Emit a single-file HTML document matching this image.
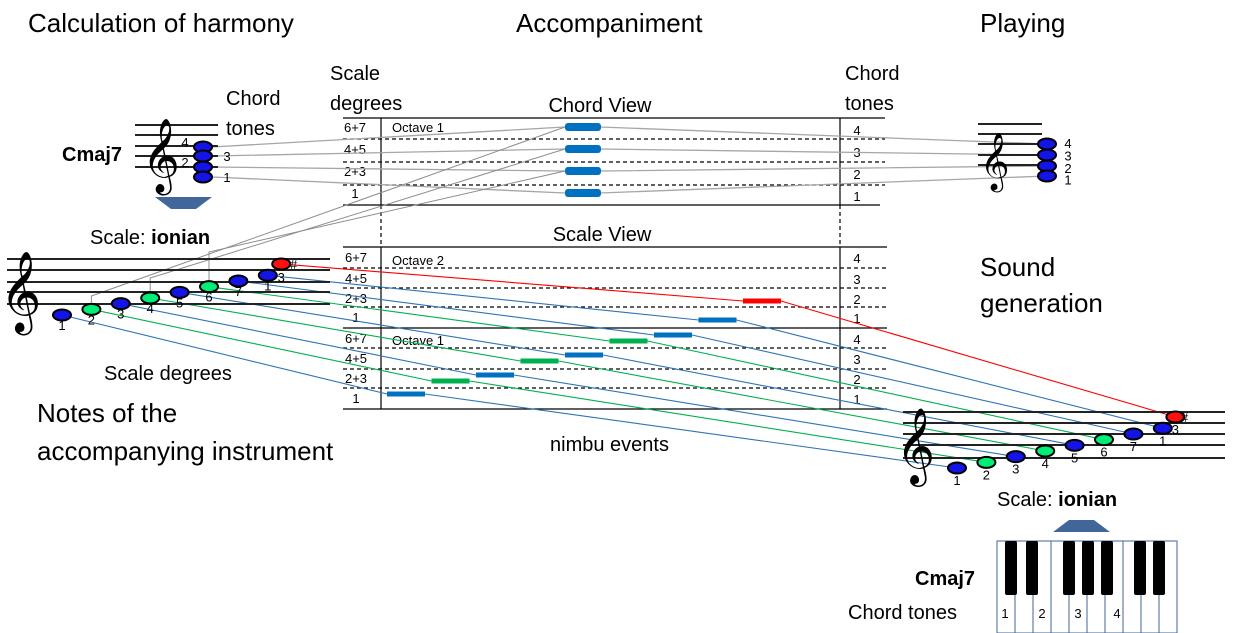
<!DOCTYPE html>
<html><head><meta charset="utf-8"><style>
html,body{margin:0;padding:0;background:#fff}
svg{display:block}
text{font-family:"Liberation Sans","DejaVu Sans",sans-serif;fill:#000}
.clef{font-family:"DejaVu Sans","Noto Sans CJK SC",serif}
</style></head><body>
<svg id="chart" width="1233" height="633" viewBox="0 0 1233 633" xmlns="http://www.w3.org/2000/svg">
<g id="titles">
<text x="28" y="32" font-size="26">Calculation of harmony</text>
<text x="516" y="32" font-size="26">Accompaniment</text>
<text x="980" y="32" font-size="26">Playing</text>
<text x="330" y="80" font-size="20">Scale</text>
<text x="330" y="110" font-size="20">degrees</text>
<text x="845" y="80" font-size="20">Chord</text>
<text x="845" y="110" font-size="20">tones</text>
<text x="600" y="112" font-size="20" text-anchor="middle">Chord View</text>
<text x="602" y="241" font-size="20" text-anchor="middle">Scale View</text>
<text x="226" y="105" font-size="20">Chord</text>
<text x="226" y="135" font-size="20">tones</text>
<text x="62" y="161" font-size="20" font-weight="bold">Cmaj7</text>
<text x="90" y="244" font-size="20">Scale: <tspan font-weight="bold">ionian</tspan></text>
<text x="104" y="380" font-size="20">Scale degrees</text>
<text x="37" y="422" font-size="26">Notes of the</text>
<text x="37" y="460" font-size="26">accompanying instrument</text>
<text x="550" y="451" font-size="20">nimbu events</text>
<text x="980" y="276" font-size="26">Sound</text>
<text x="980" y="312" font-size="26">generation</text>
<text x="997" y="506" font-size="20">Scale: <tspan font-weight="bold">ionian</tspan></text>
<text x="915" y="585" font-size="20" font-weight="bold">Cmaj7</text>
<text x="848" y="619" font-size="20">Chord  tones</text>
</g>
<g id="grid"></g>
<g id="links"></g>
<g id="staves"></g>
<g id="bars"></g>
<g id="piano"></g>
<polygon points="155,197 212,197 196,209 171,209" fill="#41669a"/>
<polygon points="1053,532 1110,532 1094,520 1069,520" fill="#41669a"/>
</svg>
<script>
// ---- data ----
const chordRowLabels = ["6+7","4+5","2+3","1"];
const chordToneLabels = ["4","3","2","1"];
const chordEventRows = [0,1,2,3];           // chord tone bands (4,3,2,1)
const scaleDegreeLabels = ["1","2","3","4","5","6","7","1","3"];
const scaleNoteColors = ["b","g","b","g","b","g","b","b","r"];
const eventDegrees = [0,1,2,3,4,5,6,7,9];    // scale steps (9 = 3 of octave 2)
const eventTimes = [0,1,2,3,4,5,6,7,8];

const NS="http://www.w3.org/2000/svg";
function mk(parent,tag,attrs,name){const e=document.createElementNS(NS,tag);for(const k in attrs)e.setAttribute(k,attrs[k]);


parent.appendChild(e);return e;}
const grid=document.getElementById('grid'),links=document.getElementById('links'),staves=document.getElementById('staves'),bars=document.getElementById('bars'),piano=document.getElementById('piano');
const noteFill={b:"#1414e6",g:"#00ee77",r:"#ff1010"};
const barFill={b:"#0070c0",g:"#00b050",r:"#ff0000"};
const lineCol={b:"#2e75b6",g:"#00b050",r:"#ff0000"};

// ---- grid ----
function hl(y,x1,x2,dash,name){mk(grid,'line',{x1:x1,y1:y,x2:x2,y2:y,stroke:'#000','stroke-width':1.2,'stroke-dasharray':dash?'4,3':'none'},name);}
hl(118,343,885,false,'chord-top-line');
[139,162,185].forEach(y=>hl(y,343,885,true,'chord-row-divider'));
hl(205,343,880,false,'chord-bottom-line');
hl(247,343,887,false,'scale-top-line');
[268,288,307,348,369,388].forEach(y=>hl(y,343,887,true,'scale-row-divider'));
hl(328,343,887,false,'octave-divider');
hl(409,343,887,false,'scale-bottom-line');
[381,840].forEach(x=>{
 mk(grid,'line',{x1:x,y1:118,x2:x,y2:205,stroke:'#000','stroke-width':1.2},'column-line');
 mk(grid,'line',{x1:x,y1:205,x2:x,y2:247,stroke:'#000','stroke-width':1.2,'stroke-dasharray':'4,3'},'column-dashed-line');
 mk(grid,'line',{x1:x,y1:247,x2:x,y2:409,stroke:'#000','stroke-width':1.2},'column-line');
});
function txt(p,x,y,s,size,name,anchor){const t=mk(p,'text',{x:x,y:y,'font-size':size,'text-anchor':anchor||'start'},name);t.textContent=s;return t;}
const chordRowY=[133,155,177,199];
chordRowLabels.forEach((l,i)=>{txt(grid,355,chordRowY[i]-1,l,13,'chord-row-label','middle');txt(grid,857,chordRowY[i]+2,chordToneLabels[i],13,'chord-tone-number','middle');});
txt(grid,392,132,"Octave  1",13,'chord-octave-label');
const scaleBandCenters=[398,378,358,338,317,298,278,257];
for(let o=0;o<2;o++){chordRowLabels.forEach((l,i)=>{const y=scaleBandCenters[(1-o)*4+3-i];
 txt(grid,356,y+5,l,13,'scale-row-label','middle');txt(grid,857,y+6,chordToneLabels[i],13,'scale-tone-number','middle');});}
txt(grid,392,265,"Octave 2",13,'octave-2-label');
txt(grid,392,345,"Octave 1",13,'octave-1-label');

// ---- axis functions ----
const xTime=t=>387+t*44.5;
const barW=38;
function yDeg(d){const band=Math.floor((d+1)/2);const first=(d===0)||(d%2===1);return scaleBandCenters[band]+(d===0?-4:(first?3:-3));}
const chordBandY=r=>127+r*22;
const leftNote=i=>({x:62+ (i<8?i*29.4:i*27.4), y:315-eventDegrees[i]*5.67});
const rightNote=i=>({x:957+(i<8?i*29.4:i*27.3), y:468-eventDegrees[i]*5.67});

// ---- staves ----
function staff(x1,x2,ys,name){ys.forEach(y=>mk(staves,'line',{x1:x1,y1:y,x2:x2,y2:y,stroke:'#222','stroke-width':2},name));}
staff(7,330,[259,270,282,292,304],'left-staff-line');
staff(903,1225,[412,423,434,445,458],'right-staff-line');
staff(135,218,[125,135,146,156,167],'chord-staff-line');
staff(978,1042,[124,134,144,155,165],'playing-staff-line');
function clef(x,y,size,name){const t=txt(staves,x,y,"\u{1D11E}",size,name);t.setAttribute('class','clef');}
clef(0,315,70,'left-clef');clef(896,468,66,'right-clef');clef(142,177,64,'chord-clef');clef(980,178,50,'playing-clef');
function note(x,y,c,name){mk(staves,'ellipse',{cx:x,cy:y,rx:9,ry:5.5,fill:noteFill[c],stroke:'#000','stroke-width':2},name);}

// connection lines scale view
eventTimes.forEach((t,i)=>{const c=scaleNoteColors[i];const L=leftNote(i),R=rightNote(i);const bx=xTime(t),by=yDeg(eventDegrees[i]);
 mk(links,'polyline',{points:`${L.x},${L.y} ${bx},${by} ${bx+barW},${by} ${R.x},${R.y}`,fill:'none',stroke:lineCol[c],'stroke-width':1.1},'scale-link-line');
});
// chord view lines
const chordNoteY=[147,156,167,177], playNoteY=[144,155,166,176];
chordEventRows.forEach((r,i)=>{const y=chordBandY(r);
 mk(links,'polyline',{points:`212,${chordNoteY[i]} 565,${y} 600,${y} 1047,${playNoteY[i]}`,fill:'none',stroke:'#a6a6a6','stroke-width':1.3},'chord-link-line');
});
[[1,0,296],[3,1,278],[5,2,252]].forEach(([n,r,top])=>{const L=leftNote(n);
 mk(links,'polyline',{points:`${L.x},${L.y} ${L.x},${top} 565,${chordBandY(r)}`,fill:'none',stroke:'#8c8c8c','stroke-width':1},'degree-to-chord-line');});

// notes
mk(staves,'line',{x1:52,y1:315,x2:72,y2:315,stroke:'#222','stroke-width':1.5},'ledger-line');
mk(staves,'line',{x1:947,y1:468,x2:967,y2:468,stroke:'#222','stroke-width':1.5},'ledger-line');
mk(staves,'line',{x1:193,y1:177,x2:213,y2:177,stroke:'#222','stroke-width':1.5},'ledger-line');
eventTimes.forEach((t,i)=>{const c=scaleNoteColors[i];const L=leftNote(i),R=rightNote(i);
 note(L.x,L.y,c,'left-scale-note');note(R.x,R.y,c,'right-scale-note');
 txt(staves,L.x+ (i==8?0:0),L.y+15+(i==8?3:0),scaleDegreeLabels[i],13,'left-degree-label','middle');
 txt(staves,R.x,R.y+17,scaleDegreeLabels[i],13,'right-degree-label','middle');});
txt(staves,290,269,"#",13,'sharp-left');txt(staves,1181,422,"#",13,'sharp-right');
chordNoteY.forEach((y,i)=>{note(203,y,'b','chord-note');note(1047,playNoteY[i],'b','playing-note');
 txt(staves,i%2?227:185,y+(i%2?5:0),chordToneLabels[i],13,'chord-note-label','middle');
 txt(staves,1068,playNoteY[i]+4+i*1.5,chordToneLabels[i],13,'playing-note-label','middle');});

// ---- bars ----
chordEventRows.forEach(r=>{mk(bars,'rect',{x:565,y:chordBandY(r)-4,width:36,height:8,rx:3,fill:'#0070c0'},'chord-event-bar');});
eventTimes.forEach((t,i)=>{const c=scaleNoteColors[i];mk(bars,'rect',{x:xTime(t),y:yDeg(eventDegrees[i])-2.5,width:barW,height:5,fill:barFill[c]},'scale-event-bar');});

// ---- piano ----
for(let k=0;k<10;k++)mk(piano,'rect',{x:997+k*18,y:541,width:18,height:92,fill:'#fff',stroke:'#41669a','stroke-width':1},'white-key');
[1005,1026,1063,1082,1101,1134,1153].forEach(x=>mk(piano,'rect',{x:x,y:541,width:12,height:54,rx:2,fill:'#000'},'black-key'));
[["1",1005],["2",1042],["3",1078],["4",1117]].forEach(([s,x])=>txt(piano,x,618,s,13,'key-tone-label','middle'));
</script>
</body></html>
